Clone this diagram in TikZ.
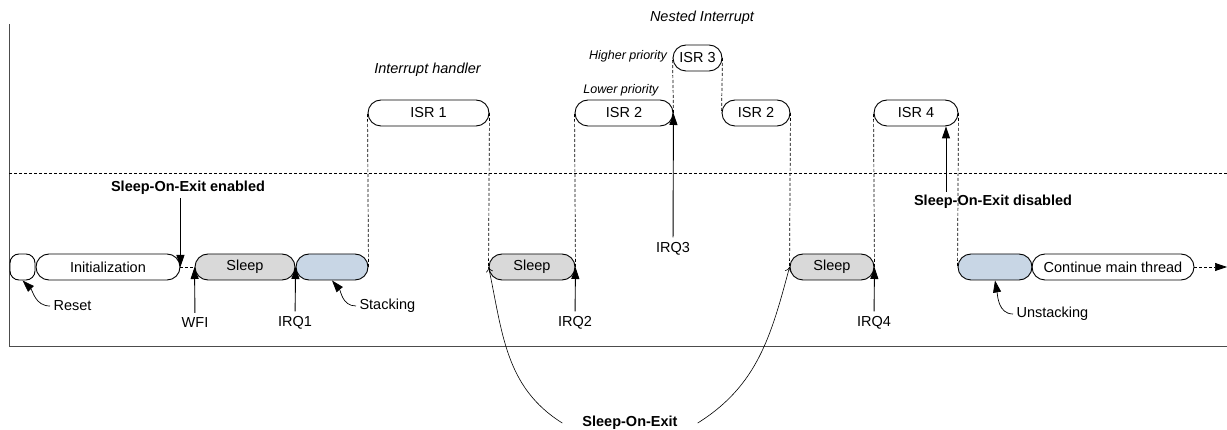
\documentclass[tikz,border=0pt]{standalone}
\usepackage{fontspec}
\setmainfont{Liberation Sans}
\usetikzlibrary{arrows.meta}
\definecolor{sleepgray}{RGB}{217,217,217}
\definecolor{stackblue}{RGB}{200,214,229}

\begin{document}
\begin{tikzpicture}[x=1pt, y=-1pt,
    font=\fontsize{14.5}{17}\selectfont,
    bar/.style={draw, rectangle, rounded corners=13pt, line width=0.9pt, minimum height=26pt, inner xsep=2pt, inner ysep=0pt},
    sleepbar/.style={bar, fill=sleepgray},
    stackbar/.style={bar, fill=stackblue},
    guide/.style={dashed, dash pattern=on 3pt off 2pt, line width=0.7pt},
    irq/.style={line width=0.9pt, -{Triangle[length=12pt,width=8pt]}},
    hook/.style={line width=0.7pt, -{Triangle[length=12pt,width=8pt]}},
    wake/.style={line width=0.6pt, -{To[length=5pt,width=7pt]}},
    tag/.style={inner sep=5pt},
    note/.style={font=\fontsize{14.5}{17}\selectfont\itshape},
    smallnote/.style={font=\fontsize{12.5}{15}\selectfont\itshape},
    bold/.style={font=\fontsize{14.5}{17}\selectfont\bfseries}]
    \useasboundingbox (0,0) rectangle (1227,430);

    \draw[line width=0.9pt, black!70] (9,24) -- (9,346) -- (1227,346);
    \draw[guide, line width=0.8pt] (9,173) -- (1227,173);

    \node[bar, minimum width=25pt, rounded corners=9pt] (reset) at (22.5,267) {};
    \node[bar, minimum width=144pt] (init) at (108,267) {Initialization};
    \node[sleepbar, minimum width=100pt] (sleepA) at (245,267) {Sleep};
    \node[stackbar, minimum width=72pt] (stackA) at (332,267) {};
    \node[bar, minimum width=121pt] (isrA) at (428.5,113) {ISR 1};
    \node[sleepbar, minimum width=86pt] (sleepB) at (532,267) {Sleep};
    \node[bar, minimum width=98pt] (isrB) at (624,113) {ISR 2};
    \node[bar, minimum width=49pt] (isrC) at (697.5,58) {ISR 3};
    \node[bar, minimum width=68pt] (isrD) at (756,113) {ISR 2};
    \node[sleepbar, minimum width=84pt] (sleepC) at (832,267) {Sleep};
    \node[bar, minimum width=84pt] (isrE) at (916,113) {ISR 4};
    \node[stackbar, minimum width=74pt] (unstack) at (995,267) {};
    \node[bar, minimum width=162pt] (cont) at (1113,267) {Continue main thread};
    \coordinate (tail) at (1227,267);

    \draw[guide] (init.east) -- (sleepA.west);
    \draw[guide] (stackA.east) -- (isrA.west);
    \draw[guide] (isrA.east) -- (sleepB.west);
    \draw[guide] (sleepB.east) -- (isrB.west);
    \draw[guide] (isrB.east) -- (isrC.west);
    \draw[guide] (isrC.east) -- (isrD.west);
    \draw[guide] (isrD.east) -- (sleepC.west);
    \draw[guide] (sleepC.east) -- (isrE.west);
    \draw[guide] (isrE.east) -- (unstack.west);
    \draw[guide, -{Triangle[length=12pt,width=8pt]}] (cont.east) -- (tail);

    \node[note] (handler) at (427.5,70) {Interrupt handler};
    \node[note] (nested) at (702,18) {Nested Interrupt};
    \node[smallnote] (higher) at (628,56) {Higher priority};
    \node[smallnote] (lower) at (621,90) {Lower priority};

    \node[tag] (wfi) at (195,323) {WFI};
    \node[tag] (irqA) at (295,323) {IRQ1};
    \node[tag] (irqB) at (575,323) {IRQ2};
    \node[tag] (irqC) at (673,249) {IRQ3};
    \node[tag] (irqD) at (874,323) {IRQ4};
    \draw[irq] (wfi) -- (sleepA.west);
    \draw[irq] (irqA) -- (stackA.west);
    \draw[irq] (irqB) -- (sleepB.east);
    \draw[irq] (irqC) -- (isrB.east);
    \draw[irq] (irqD) -- (sleepC.east);

    \node[bold] (soeOn) at (188,188) {Sleep-On-Exit enabled};
    \node[bold] (soeOff) at (993,202) {Sleep-On-Exit disabled};
    \draw[irq] (init.east |- soeOn.south) -- (init.east);
    \draw[irq] ([xshift=-47pt]soeOff.north) -- ([xshift=-47pt]soeOff.north |- isrE.south);

    \node[anchor=west] (resetLbl) at (50,306) {Reset};
    \node[anchor=west] (stackLbl) at (356,306) {Stacking};
    \node[anchor=west] (unstackLbl) at (1013,314) {Unstacking};
    \draw[hook] (resetLbl.west) to[out=180,in=-45] (reset.south);
    \draw[hook] (stackLbl.west) to[out=180,in=-50] (stackA.south);
    \draw[hook] (unstackLbl.west) to[out=180,in=-80] (unstack.south);

    \node[bold, inner xsep=20pt] (soe) at (630,423) {Sleep-On-Exit};
    \draw[wake] (soe.west) to[out=148,in=-78] (sleepB.west);
    \draw[wake] (soe.east) to[out=32,in=-105] (sleepC.west);
\end{tikzpicture}
\end{document}
